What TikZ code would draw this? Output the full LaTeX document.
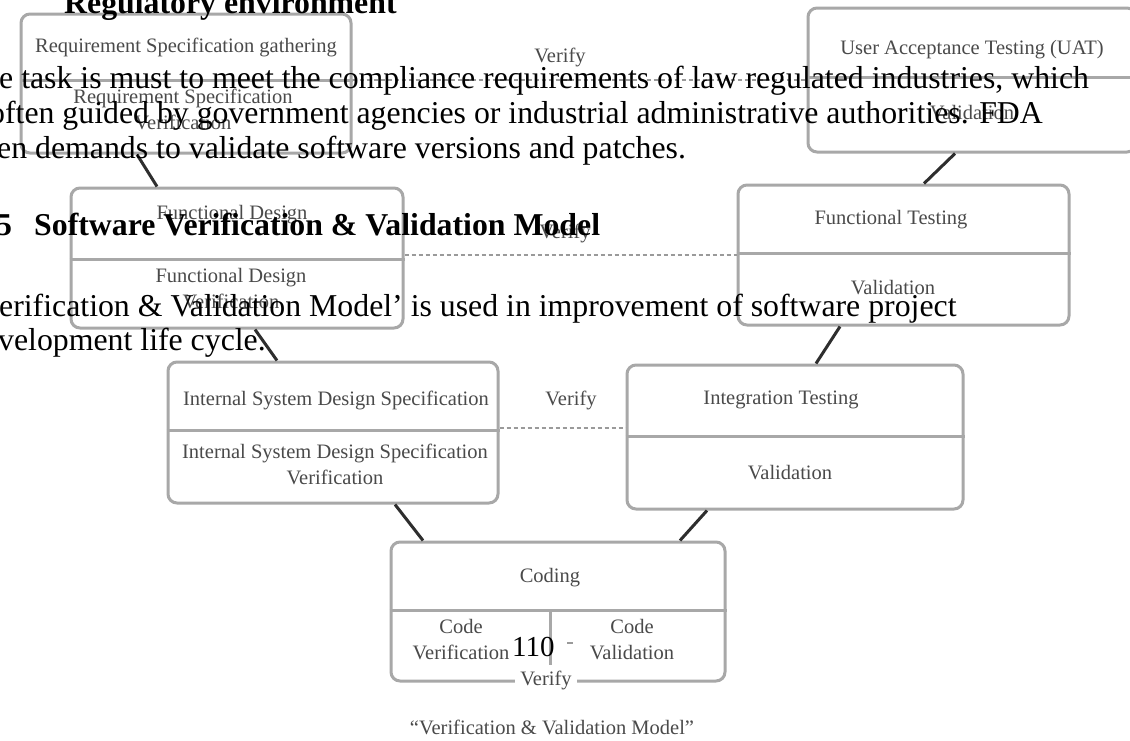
\documentclass[tikz,border=0pt]{standalone}
\usepackage{fontspec}
\setmainfont{Liberation Serif}
\definecolor{boxgray}{HTML}{A8A8A8}
\definecolor{linkdark}{HTML}{2E2E2E}
\definecolor{dashgray}{HTML}{9A9A9A}
\definecolor{labelgray}{HTML}{4A4A4A}
\newcommand\dgmfont{\fontsize{20.5}{26}\selectfont}
\newcommand\pagefont{\fontsize{31.8}{37}\selectfont}
\begin{document}
\begin{tikzpicture}[x=1pt,y=-1pt,
  vbox/.style={draw=boxgray, line width=3pt, rounded corners=9pt, inner sep=0pt},
  divider/.style={draw=boxgray, line width=3pt},
  link/.style={draw=linkdark, line width=3pt},
  verline/.style={draw=dashgray, line width=2pt, dash pattern=on 4pt off 3pt},
  dlabel/.style={font=\dgmfont, text=labelgray, align=center, inner sep=0pt},
  body/.style={font=\pagefont, text=black, anchor=base west, inner sep=0pt},
  bodyb/.style={body, font=\pagefont\bfseries}]
\useasboundingbox (0,0) rectangle (1130,740);
\clip (0,0) rectangle (1130,740);
\fill[white] (0,0) rectangle (1130,740);

% ---- V-model boxes ----
\node[vbox, minimum width=330pt, minimum height=139pt] (req) at (186,83.5) {};
\node[vbox, minimum width=328pt, minimum height=144pt] (uat) at (972,80) {};
\node[vbox, minimum width=332pt, minimum height=140pt] (fd)  at (237,258) {};
\node[vbox, minimum width=331pt, minimum height=140pt] (ft)  at (903.5,255) {};
\node[vbox, minimum width=330pt, minimum height=141pt] (isd) at (333,432.5) {};
\node[vbox, minimum width=336pt, minimum height=144pt] (it)  at (795,437) {};
\node[vbox, minimum width=334pt, minimum height=139pt] (cod) at (558,611.5) {};

% section dividers
\draw[divider] ([yshift=3.5pt]req.west) -- ([yshift=3.5pt]req.east);
\draw[divider] ([yshift=3pt]uat.west) -- ([yshift=3pt]uat.east);
\draw[divider] ([yshift=-1pt]fd.west) -- ([yshift=-1pt]fd.east);
\draw[divider] ([yshift=2pt]ft.west) -- ([yshift=2pt]ft.east);
\draw[divider] ([yshift=2.5pt]isd.west) -- ([yshift=2.5pt]isd.east);
\draw[divider] ([yshift=1pt]it.west) -- ([yshift=1pt]it.east);
\draw[divider] ([yshift=1.5pt]cod.west) -- ([yshift=1.5pt]cod.east);
\draw[divider] ([xshift=-8pt,yshift=1.5pt]cod.center) -- ([xshift=-8pt,yshift=-53.5pt]cod.center);

% solid links down the left arm and up the right arm
\draw[link] ([xshift=-49pt]req.south) -- ([xshift=-80pt]fd.north);
\draw[link] ([xshift=18pt]fd.south) -- ([xshift=-56pt]isd.north);
\draw[link] ([xshift=62pt]isd.south) -- ([xshift=-135pt]cod.north);
\draw[link] ([xshift=122pt]cod.north) -- ([xshift=-88pt]it.south);
\draw[link] ([xshift=21pt]it.north) -- ([xshift=-63.5pt]ft.south);
\draw[link] ([xshift=20.5pt]ft.north) -- ([xshift=-17pt]uat.south);

% dashed verify links across the V
\draw[verline] (req.east |- uat.west) -- (uat.west);
\draw[verline] (fd.east |- ft.west) -- (ft.west);
\draw[verline] ([yshift=4.5pt]isd.east) -- ([yshift=4.5pt]isd.east -| it.west);
\coordinate (cva) at (561,643);
\coordinate (cvb) at (577,643);
\draw[verline, dash pattern=on 0pt off 6pt on 6pt off 10pt] (cva) -- (cvb);

% box labels
\node[dlabel] (reqA) at (186,47) {Requirement Specification gathering};
\node[dlabel] (reqB) at (183,109) {Requirement Specification\\Verification};
\node[dlabel] (uatA) at (972,50) {User Acceptance Testing (UAT)};
\node[dlabel] (uatB) at (972,113) {Validation};
\node[dlabel] (fdA)  at (232,215) {Functional Design};
\node[dlabel] (fdB)  at (231,288.5) {Functional Design\\Verification};
\node[dlabel] (ftA)  at (891,220) {Functional Testing};
\node[dlabel] (ftB)  at (893,288) {Validation};
\node[dlabel] (isdA) at (336,400) {Internal System Design Specification};
\node[dlabel] (isdB) at (335,464) {Internal System Design Specification\\Verification};
\node[dlabel] (itA)  at (781,400) {Integration Testing};
\node[dlabel] (itB)  at (790,473) {Validation};
\node[dlabel] (codA) at (550,578) {Coding};
\node[dlabel] (codL) at (461,640) {Code\\Verification};
\node[dlabel] (codR) at (632,640) {Code\\Validation};
\node[dlabel, fill=white, inner xsep=5pt, inner ysep=1pt] (codV) at (546,680) {Verify};
\node[dlabel] (v1) at (560,57) {Verify};
\node[dlabel] (v2) at (565,233) {Verify};
\node[dlabel] (v3) at (571,400) {Verify};
\node[dlabel] (cap) at (552,727) {“Verification \& Validation Model”};

% ---- page text printed over the figure ----
\node[bodyb] (h1) at (64,13) {Regulatory environment};
\node[body] (l1) at (-1,88) {e task is must to meet the compliance requirements of law regulated industries, which};
\node[body] (l2) at (-11,123) {often guided by government agencies or industrial administrative authorities. FDA};
\node[body] (l3) at (-3,158) {en demands to validate software versions and patches.};
\node[bodyb] (h2n) at (-4,235) {5};
\node[bodyb] (h2) at (34,235) {Software Verification \& Validation Model};
\node[body] (l4) at (-1,316) {erification \& Validation Model’ is used in improvement of software project};
\node[body] (l5) at (-2,350) {velopment life cycle.};
\node[body, font=\fontsize{29}{34}\selectfont] (pg) at (512,656) {110};
\end{tikzpicture}
\end{document}
